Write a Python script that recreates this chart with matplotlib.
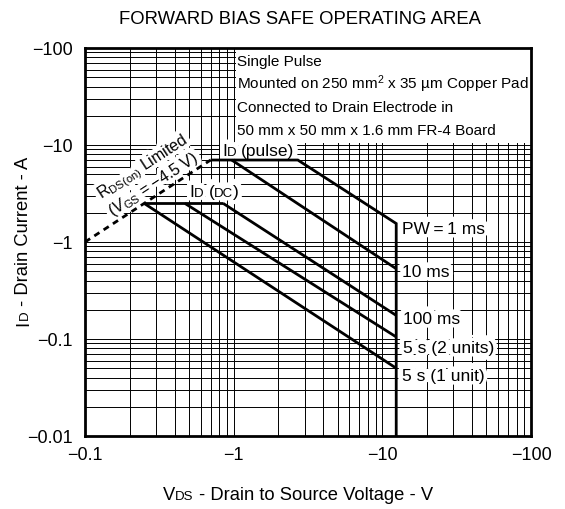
import numpy as np
import matplotlib
matplotlib.use("Agg")
import matplotlib.pyplot as plt
from matplotlib.patches import Rectangle
from matplotlib.ticker import FixedLocator, NullFormatter, LogLocator
import matplotlib.patheffects as pe

plt.rcParams['font.family'] = ['Liberation Sans', 'DejaVu Sans']
plt.rcParams['mathtext.fontset'] = 'custom'
plt.rcParams['mathtext.rm'] = 'Liberation Sans'
plt.rcParams['mathtext.it'] = 'Liberation Sans:italic'
plt.rcParams['mathtext.bf'] = 'Liberation Sans:bold'

# ---------------- data (|V|, |A|) ----------------
rds_v = [0.1, 0.7]
rds_i = [1.0, 7.0]
pw1ms_v = [0.7, 2.7, 12.4, 12.4]
pw1ms_i = [7.0, 7.0, 1.55, 0.01]
pw10ms_v = [0.97, 12.4]
pw10ms_i = [7.0, 0.53]
dc_v = [0.25, 0.85]
dc_i = [2.5, 2.5]
pw100ms_v = [0.85, 12.4]
pw100ms_i = [2.5, 0.175]
s5_2u_v = [0.47, 12.4]
s5_2u_i = [2.5, 0.105]
s5_1u_v = [0.25, 12.4]
s5_1u_i = [2.5, 0.05]

xticks = [0.1, 1, 10, 100]
xticklabels = ["\u22120.1", "\u22121", "\u221210", "\u2212100"]
yticks = [0.01, 0.1, 1, 10, 100]
yticklabels = ["\u22120.01", "\u22120.1", "\u22121", "\u221210", "\u2212100"]

W, H = 565, 510
fig = plt.figure(figsize=(W / 100, H / 100), dpi=100)
fig.patch.set_facecolor('white')
ax = fig.add_axes([85 / W, 1 - 437 / H, 446 / W, 388 / H])
ax.set_xscale('log')
ax.set_yscale('log')
ax.set_xlim(0.1, 100)
ax.set_ylim(0.01, 100)

ax.xaxis.set_major_locator(FixedLocator(xticks))
ax.yaxis.set_major_locator(FixedLocator(yticks))
ax.xaxis.set_minor_locator(LogLocator(base=10, subs=np.arange(2, 10)))
ax.yaxis.set_minor_locator(LogLocator(base=10, subs=np.arange(2, 10)))
ax.xaxis.set_minor_formatter(NullFormatter())
ax.yaxis.set_minor_formatter(NullFormatter())
ax.set_xticklabels(xticklabels, fontsize=13)
ax.set_yticklabels(yticklabels, fontsize=13)
ax.tick_params(which='both', length=0)
ax.tick_params(axis='x', pad=7)
ax.tick_params(axis='y', pad=9)
ax.set_axisbelow(True)
ax.grid(which='both', color='black', lw=0.7)
for sp in ax.spines.values():
    sp.set_linewidth(2.0)
    sp.set_zorder(10)

# white note box (upper right)
ax.add_patch(Rectangle((1.03, 10.5), 100 - 1.03, 100 - 10.5, facecolor='white',
                       edgecolor='none', zorder=1))

lk = dict(color='black', lw=2.0, zorder=4, solid_capstyle='butt', solid_joinstyle='miter')
ax.plot(rds_v, rds_i, color='black', lw=2.0, ls=(0, (2.2, 1.8)), zorder=4)
ax.plot(pw1ms_v, pw1ms_i, **lk)
ax.plot(pw10ms_v, pw10ms_i, **lk)
ax.plot(dc_v, dc_i, **lk)
ax.plot(pw100ms_v, pw100ms_i, **lk)
ax.plot(s5_2u_v, s5_2u_i, **lk)
ax.plot(s5_1u_v, s5_1u_i, **lk)

halo_only = [pe.Stroke(linewidth=6.5, foreground='white')]

renderer = fig.canvas.get_renderer()


def _w(s, sz):
    t = fig.text(0, 0, "|" + s + "|", fontsize=sz)
    t2 = fig.text(0, 0, "||", fontsize=sz)
    w = t.get_window_extent(renderer).width - t2.get_window_extent(renderer).width
    t.remove()
    t2.remove()
    return w


def rich(x, y_top, pieces, rotation=0, ha='left', halo=False):
    y = H - y_top
    ws = [_w(s, sz) for s, sz in pieces]
    total = sum(ws)
    off = -total / 2 if ha == 'center' else 0.0
    a = np.deg2rad(rotation)
    dx, dy = np.cos(a), np.sin(a)
    for (s, sz), w in zip(pieces, ws):
        lead = len(s) - len(s.lstrip(' '))
        sp = _w(' ' * lead, sz) if lead else 0.0
        px = (x + (off + sp) * dx) / W
        py = (y + (off + sp) * dy) / H
        kw = dict(fontsize=sz, rotation=rotation, rotation_mode='anchor',
                  ha='left', va='baseline', transform=fig.transFigure, clip_on=False)
        if halo:
            ax.text(px, py, s.strip(' '), color='white', path_effects=halo_only,
                    zorder=3, **kw)
        ax.text(px, py, s.strip(' '), color='black', zorder=5, **kw)
        off += w


# title & axis labels
fig.text(300 / W, 1 - 24 / H, "FORWARD BIAS SAFE OPERATING AREA", fontsize=13.3,
         ha='center', va='baseline')
rich(298, 500, [("V", 13.2), ("DS", 9.6), (" - Drain to Source Voltage - V", 13.2)], ha='center')
rich(28, 241, [("I", 13.2), ("D", 9.6), (" - Drain Current - A", 13.2)], rotation=90, ha='center')

# note text
notes = ["Single Pulse",
         "Mounted on 250 mm$^{2}$ x 35 \u00b5m Copper Pad",
         "Connected to Drain Electrode in",
         "50 mm x 50 mm x 1.6 mm FR-4 Board"]
for k, s in enumerate(notes):
    fig.text(237 / W, 1 - (66 + 23 * k) / H, s, fontsize=11, ha='left', va='baseline', zorder=6)

# curve labels
rich(222, 156, [("I", 12.5), ("D", 9.5), (" (pulse)", 12.5)], halo=True)
rich(189, 197, [("I", 12.5), ("D", 9.5), (" (", 12.5), ("DC", 9.5), (")", 12.5)], halo=True)
rich(402, 234, [("PW\u2009=\u20091 ms", 12.5)], halo=True)
rich(402, 277, [("10 ms", 12.5)], halo=True)
rich(403, 324, [("100 ms", 12.5)], halo=True)
rich(403, 353, [("5 s (2 units)", 12.5)], halo=True)
rich(402, 381, [("5 s (1 unit)", 12.5)], halo=True)

# RDS(on) limited label
rds_label = "R$_{\\mathregular{DS(on)}}$ Limited\n($V_{\\mathregular{GS}}$ = \u22124.5 V)"
for col, eff, z in (('white', halo_only, 3), ('black', None, 5)):
    ax.text(148 / W, 1 - 176 / H, rds_label, color=col, path_effects=eff,
            fontsize=11.5, rotation=33, rotation_mode='anchor', ha='center', va='center',
            multialignment='center', linespacing=1.0, zorder=z,
            transform=fig.transFigure, clip_on=False)

fig.savefig("out.png", dpi=100, facecolor='white')
